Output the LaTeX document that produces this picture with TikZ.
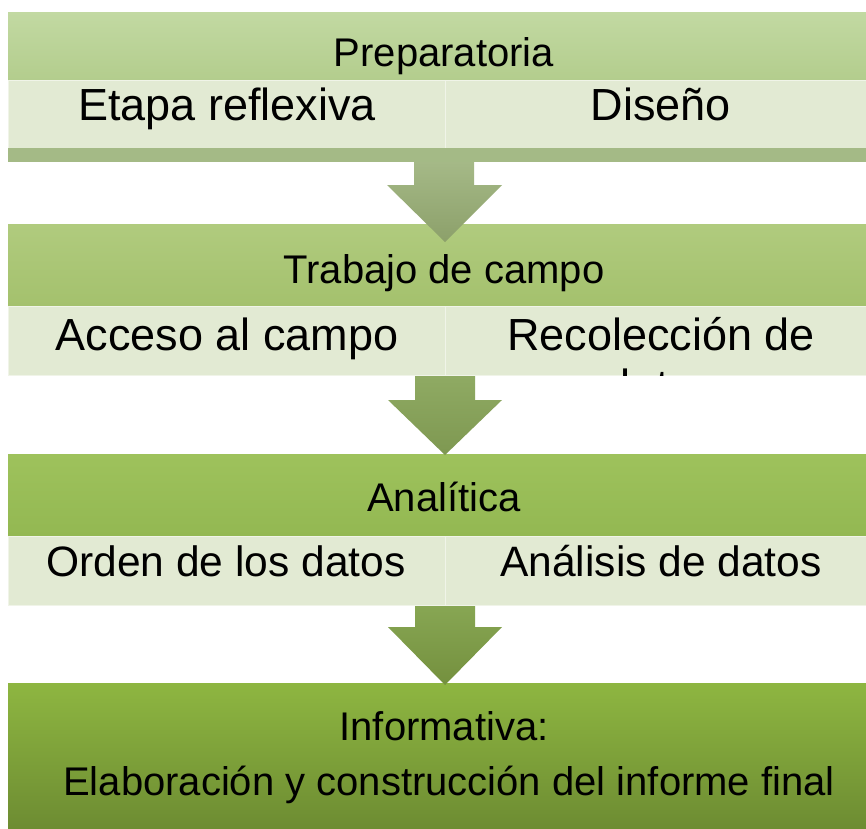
\documentclass[tikz,border=0pt]{standalone}
\usepackage{fontspec}
\setmainfont{Liberation Sans}
\usetikzlibrary{calc}
\definecolor{hAt}{HTML}{C2D9A2}\definecolor{hAb}{HTML}{B3CD8D}
\definecolor{hBt}{HTML}{B0CB7E}\definecolor{hBb}{HTML}{A4C16D}
\definecolor{hCt}{HTML}{9EC25C}\definecolor{hCb}{HTML}{93B852}
\definecolor{hDt}{HTML}{8EB641}\definecolor{hDb}{HTML}{6D8C32}
\definecolor{rowc}{HTML}{E2EAD3}\definecolor{rowline}{HTML}{F0F4E8}
\definecolor{stripc}{HTML}{A4BA86}
\definecolor{aAt}{HTML}{A5B987}\definecolor{aAb}{HTML}{8CA06A}
\definecolor{aBt}{HTML}{8FAA63}\definecolor{aBb}{HTML}{7E9851}
\definecolor{aCt}{HTML}{87A653}\definecolor{aCb}{HTML}{74903E}
\begin{document}
\begin{tikzpicture}[x=1pt,y=-1pt,
  box/.style={rectangle, inner sep=0pt, outer sep=0pt, anchor=north west},
  band/.style 2 args={box, minimum width=872pt, top color=#1, bottom color=#2},
  rowbox/.style={box, minimum width=437pt, minimum height=69pt, fill=rowc, draw=rowline, line width=1pt},
  hdtext/.style={anchor=base, inner sep=0pt, font=\fontsize{40}{48}\selectfont},
  rowtext/.style={anchor=base, inner sep=0pt, font=\fontsize{45}{51}\selectfont},
  smallrowtext/.style={anchor=base, inner sep=0pt, font=\fontsize{42.5}{51}\selectfont},
  flowarrow/.style 2 args={top color=#1, bottom color=#2}]
\useasboundingbox (0,0) rectangle (866,828);
\clip (0,0) rectangle (866,828);
\fill[white] (0,0) rectangle (866,828);

% band 1
\node[band={hAt}{hAb}, minimum height=68pt] (h1) at (8,12) {};
\node[rowbox] (r1l) at (8,80) {};
\node[rowbox, minimum width=435pt] (r1r) at (445,80) {};
\node[box, minimum width=872pt, minimum height=14pt, fill=stripc] (s1) at (8,148) {};
\node[hdtext] (t1) at (444,66) {Preparatoria};
\node[rowtext] (t1l) at (227,120) {Etapa reflexiva};
\node[rowtext] (t1r) at (661,120) {Diseño};

% band 2
\node[band={hBt}{hBb}, minimum height=82pt] (h2) at (8,224) {};
\node[rowbox] (r2l) at (8,306) {};
\node[rowbox, minimum width=435pt] (r2r) at (445,306) {};
\node[hdtext] (t2) at (444,283) {Trabajo de campo};
\node[rowtext] (t2l) at (227,350) {Acceso al campo};
\begin{scope}
  \clip (r2r.north west) rectangle (r2r.south east);
  \node[rowtext] (t2r) at (661,350) {Recolección de};
  \node[rowtext] (t2r2) at (661,401) {datos};
\end{scope}

% band 3
\node[band={hCt}{hCb}, minimum height=82pt] (h3) at (8,454) {};
\node[rowbox] (r3l) at (8,536) {};
\node[rowbox, minimum width=435pt] (r3r) at (445,536) {};
\node[hdtext] (t3) at (444,511) {Analítica};
\node[smallrowtext] (t3l) at (226,576) {Orden de los datos};
\node[smallrowtext] (t3r) at (661,576) {Análisis de datos};

% band 4
\node[band={hDt}{hDb}, minimum height=146pt] (h4) at (8,683) {};
\node[hdtext] (t4a) at (444,740) {Informativa:};
\node[hdtext] (t4b) at (449,795) {Elaboración y construcción del informe final};

% arrows
\shade[flowarrow={aAt}{aAb}]
  ($(s1.south)+(-30,0)$) -- ($(s1.south)+(30,0)$) -- ($(s1.south)+(30,23)$)
  -- ($(s1.south)+(58,23)$) -- ($(h2.north)+(1,18)$) -- ($(s1.south)+(-57,23)$)
  -- ($(s1.south)+(-30,23)$) -- cycle;
\shade[flowarrow={aBt}{aBb}]
  ($(r2l.south east)+(-30,1)$) -- ($(r2l.south east)+(30,1)$) -- ($(r2l.south east)+(30,25)$)
  -- ($(r2l.south east)+(57,25)$) -- ($(h3.north)+(1,1)$) -- ($(r2l.south east)+(-57,25)$)
  -- ($(r2l.south east)+(-30,25)$) -- cycle;
\shade[flowarrow={aCt}{aCb}]
  ($(r3l.south east)+(-30,1)$) -- ($(r3l.south east)+(30,1)$) -- ($(r3l.south east)+(30,22)$)
  -- ($(r3l.south east)+(57,22)$) -- ($(h4.north)+(1,2)$) -- ($(r3l.south east)+(-57,22)$)
  -- ($(r3l.south east)+(-30,22)$) -- cycle;
\end{tikzpicture}
\end{document}
